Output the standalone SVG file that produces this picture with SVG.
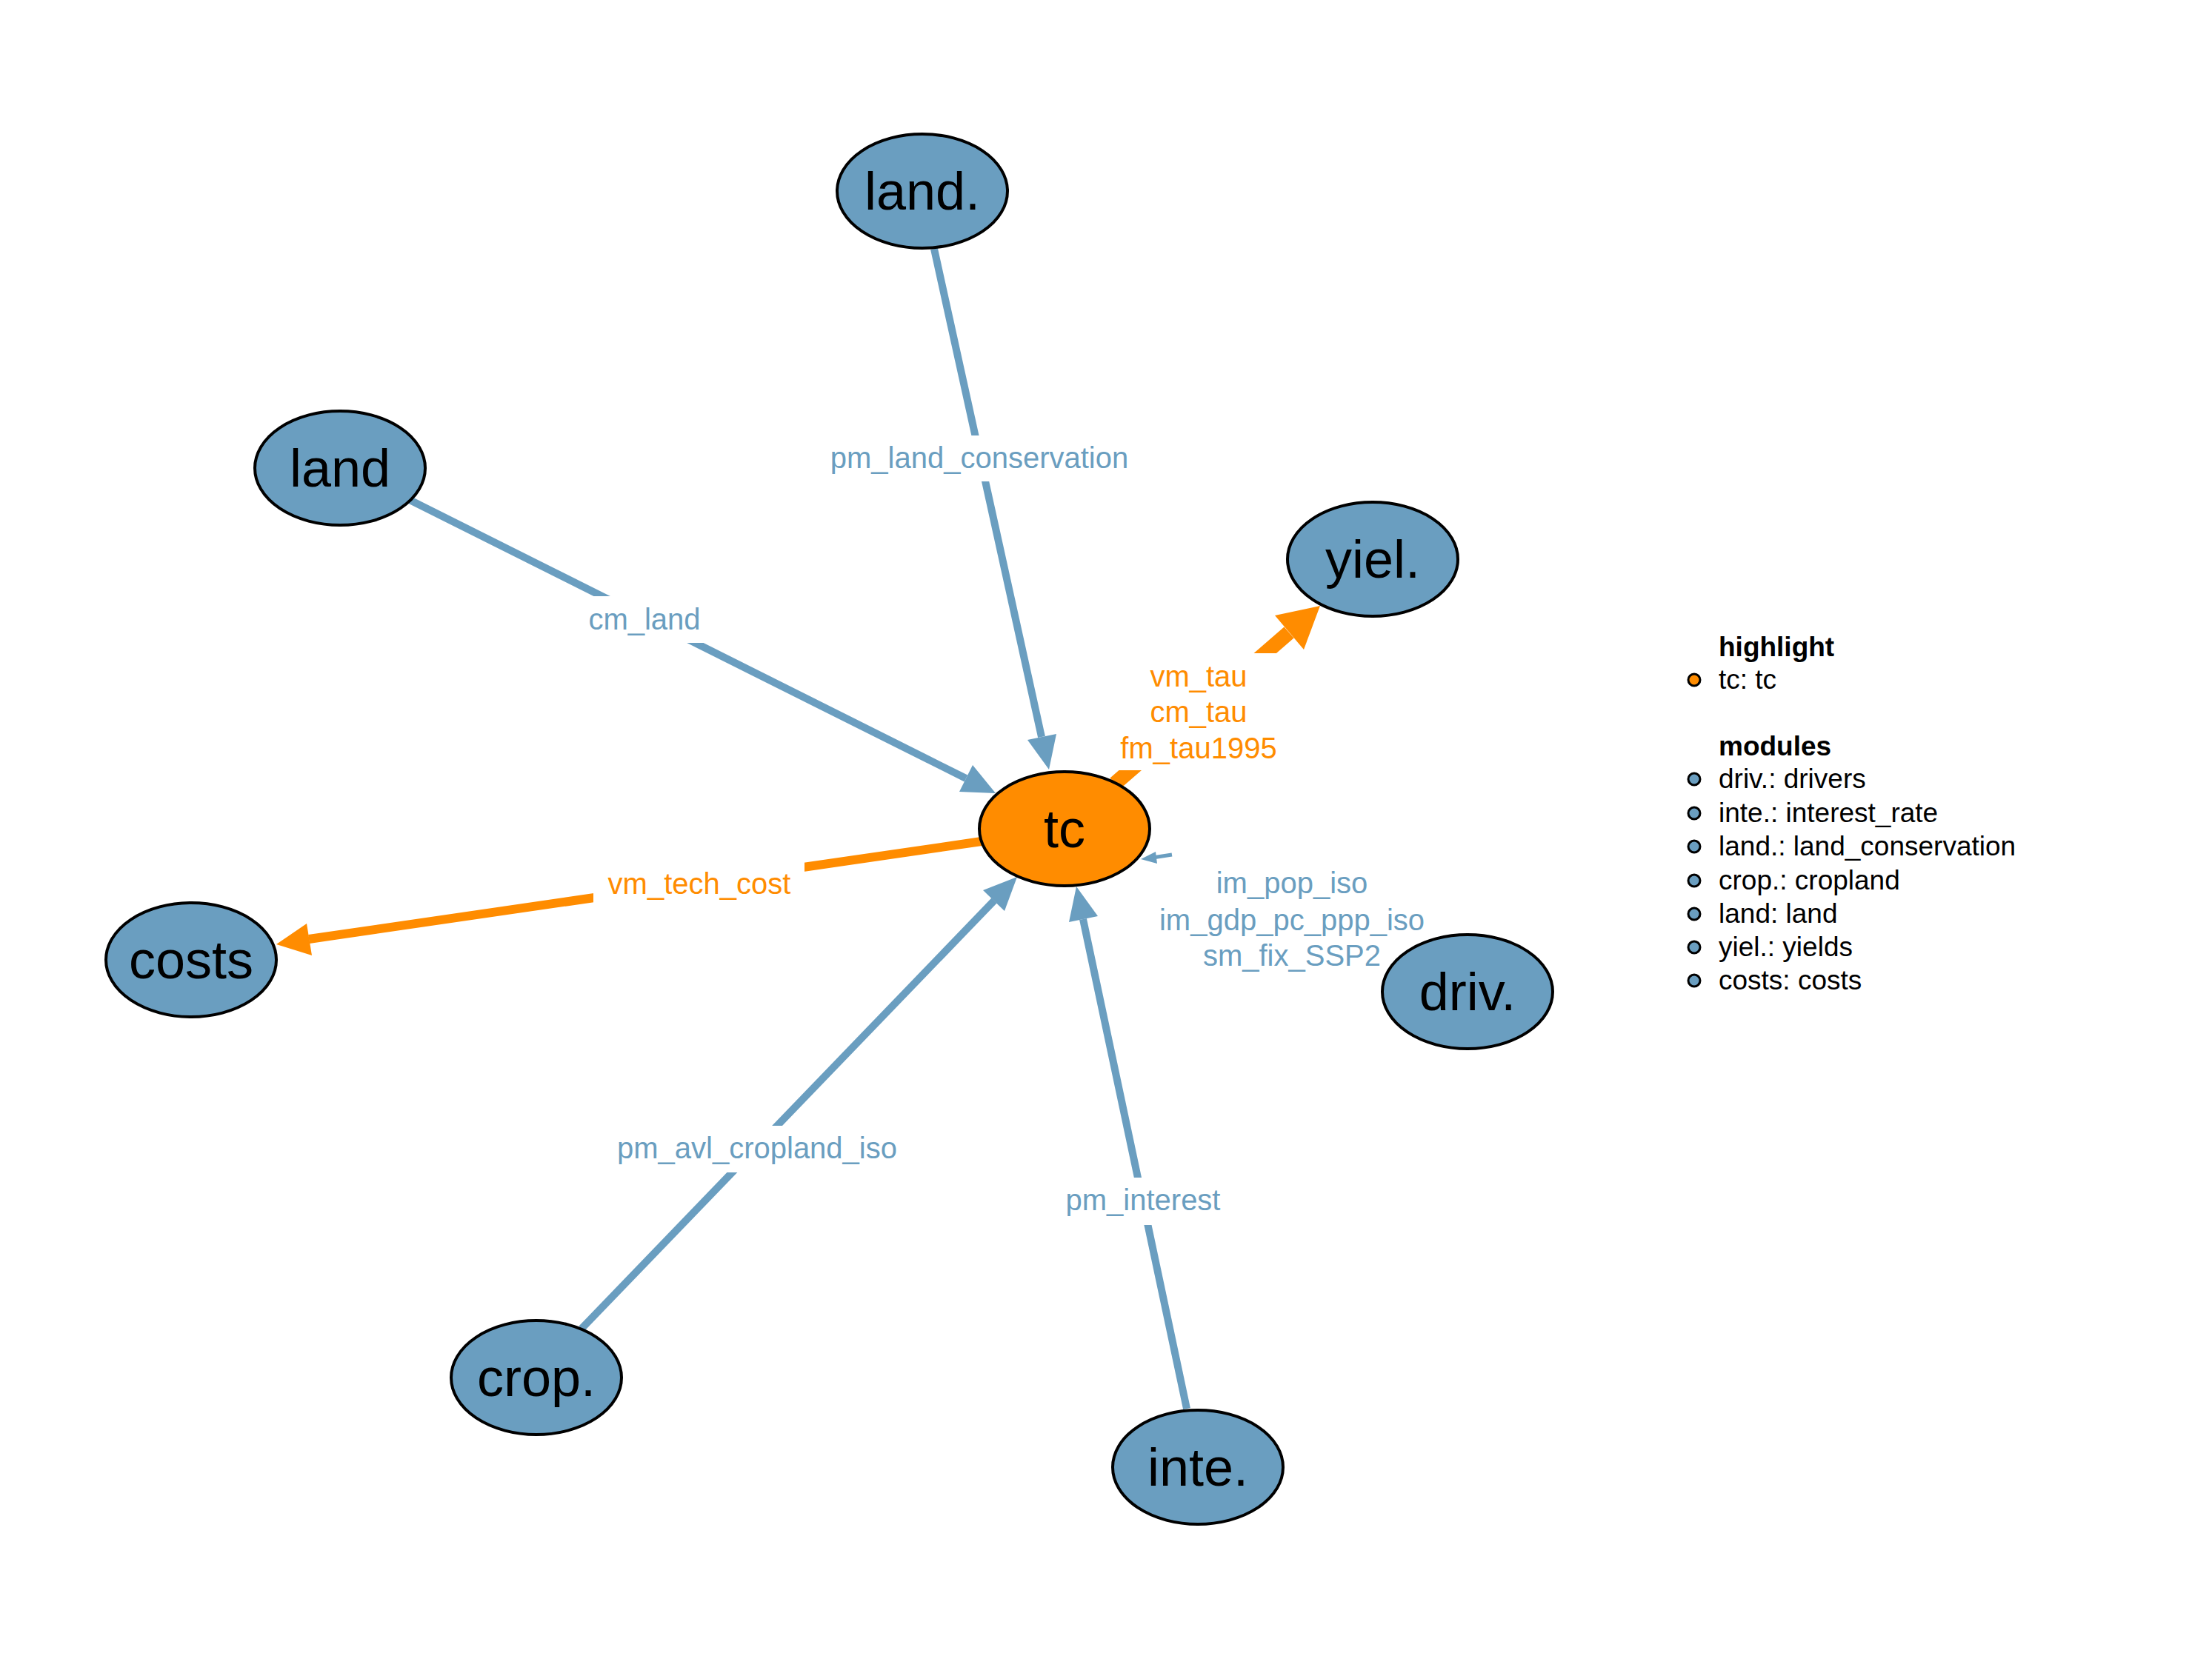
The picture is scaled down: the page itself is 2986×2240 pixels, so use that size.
<svg xmlns="http://www.w3.org/2000/svg" width="2986" height="2240" viewBox="0 0 2986 2240">
<style>
.node{fill:#6A9EC0;stroke:#000;stroke-width:4}
.hl{fill:#FF8C00;stroke:#000;stroke-width:4}
.nl{font-family:"Liberation Sans",Arial,sans-serif;font-size:72px;text-anchor:middle;fill:#000}
.eb{stroke:#6A9EC0;stroke-width:10;fill:none}
.eo{stroke:#FF8C00;fill:none}
.ab{fill:#6A9EC0}
.ao{fill:#FF8C00}
.lb{font-family:"Liberation Sans",Arial,sans-serif;font-size:40px;text-anchor:middle;fill:#6A9EC0}
.lo{font-family:"Liberation Sans",Arial,sans-serif;font-size:40px;text-anchor:middle;fill:#FF8C00}
.gap{fill:#fff}
.lg{font-family:"Liberation Sans",Arial,sans-serif;font-size:37px;fill:#000}
.lgh{font-family:"Liberation Sans",Arial,sans-serif;font-size:37px;font-weight:bold;fill:#000}
</style>
<rect width="2986" height="2240" fill="#fff"/>
<g id="connectors">
<line class="eb" x1="1261" y1="336" x2="1406" y2="995"/>
<polygon class="ab" points="1416,1039 1387,999 1426,991"/>
<line class="eb" x1="553" y1="675" x2="1304" y2="1051"/>
<polygon class="ab" points="1344,1071 1295,1069 1313,1033"/>
<line class="eb" x1="785" y1="1794" x2="1342" y2="1216"/>
<polygon class="ab" points="1373,1184 1356,1230 1327,1202"/>
<line class="eb" x1="1602" y1="1902" x2="1462" y2="1241"/>
<polygon class="ab" points="1453,1197 1482,1237 1443,1245"/>
<line class="eb" style="stroke-width:5" x1="1582" y1="1154" x2="1556" y2="1158"/>
<polygon class="ab" points="1540,1160 1560,1150 1562,1166"/>
<line class="eo" style="stroke-width:12" x1="1325" y1="1136" x2="417" y2="1268"/>
<polygon class="ao" points="373,1275 414,1247 421,1290"/>
<line class="eo" style="stroke-width:20" x1="1505" y1="1058" x2="1740" y2="854"/>
<polygon class="ao" points="1782,818 1760,877 1721,831"/>
<rect class="gap" x="1115" y="588" width="420" height="62"/>
<text class="lb" x="1322" y="632">pm_land_conservation</text>
<rect class="gap" x="790" y="805" width="160" height="63"/>
<text class="lb" x="870" y="850">cm_land</text>
<rect class="gap" x="801" y="1160" width="285" height="62"/>
<text class="lo" x="944" y="1207">vm_tech_cost</text>
<rect class="gap" x="825" y="1520" width="395" height="63"/>
<text class="lb" x="1022" y="1564">pm_avl_cropland_iso</text>
<rect class="gap" x="1432" y="1590" width="224" height="64"/>
<text class="lb" x="1543" y="1634">pm_interest</text>
<rect class="gap" x="1500" y="882" width="240" height="158"/>
<text class="lo" x="1618" y="927">vm_tau</text>
<text class="lo" x="1618" y="975">cm_tau</text>
<text class="lo" x="1618" y="1024">fm_tau1995</text>
<text class="lb" x="1744" y="1206">im_pop_iso</text>
<text class="lb" x="1744" y="1256">im_gdp_pc_ppp_iso</text>
<text class="lb" x="1744" y="1304">sm_fix_SSP2</text>
</g>
<g id="node-land-conservation"><ellipse class="node" cx="1245" cy="258" rx="115" ry="77"/><text class="nl" x="1245" y="283">land.</text></g>
<g id="node-land"><ellipse class="node" cx="459" cy="632" rx="115" ry="77"/><text class="nl" x="459" y="657">land</text></g>
<g id="node-yiel"><ellipse class="node" cx="1853" cy="755" rx="115" ry="77"/><text class="nl" x="1853" y="780">yiel.</text></g>
<g id="node-tc"><ellipse class="hl" cx="1437" cy="1119" rx="115" ry="77"/><text class="nl" x="1437" y="1144">tc</text></g>
<g id="node-costs"><ellipse class="node" cx="258" cy="1296" rx="115" ry="77"/><text class="nl" x="258" y="1321">costs</text></g>
<g id="node-driv"><ellipse class="node" cx="1981" cy="1339" rx="115" ry="77"/><text class="nl" x="1981" y="1364">driv.</text></g>
<g id="node-crop"><ellipse class="node" cx="724" cy="1860" rx="115" ry="77"/><text class="nl" x="724" y="1885">crop.</text></g>
<g id="node-inte"><ellipse class="node" cx="1617" cy="1981" rx="115" ry="77"/><text class="nl" x="1617" y="2006">inte.</text></g>
<g id="legend">
<text class="lgh" x="2320" y="886">highlight</text>
<circle class="hl" style="stroke-width:3" cx="2287" cy="918" r="8"/><text class="lg" x="2320" y="930">tc: tc</text>
<text class="lgh" x="2320" y="1020">modules</text>
<circle class="node" style="stroke-width:3" cx="2287" cy="1052" r="8"/><text class="lg" x="2320" y="1064">driv.: drivers</text>
<circle class="node" style="stroke-width:3" cx="2287" cy="1098" r="8"/><text class="lg" x="2320" y="1110">inte.: interest_rate</text>
<circle class="node" style="stroke-width:3" cx="2287" cy="1143" r="8"/><text class="lg" x="2320" y="1155">land.: land_conservation</text>
<circle class="node" style="stroke-width:3" cx="2287" cy="1189" r="8"/><text class="lg" x="2320" y="1201">crop.: cropland</text>
<circle class="node" style="stroke-width:3" cx="2287" cy="1234" r="8"/><text class="lg" x="2320" y="1246">land: land</text>
<circle class="node" style="stroke-width:3" cx="2287" cy="1279" r="8"/><text class="lg" x="2320" y="1291">yiel.: yields</text>
<circle class="node" style="stroke-width:3" cx="2287" cy="1324" r="8"/><text class="lg" x="2320" y="1336">costs: costs</text>
</g>
</svg>
